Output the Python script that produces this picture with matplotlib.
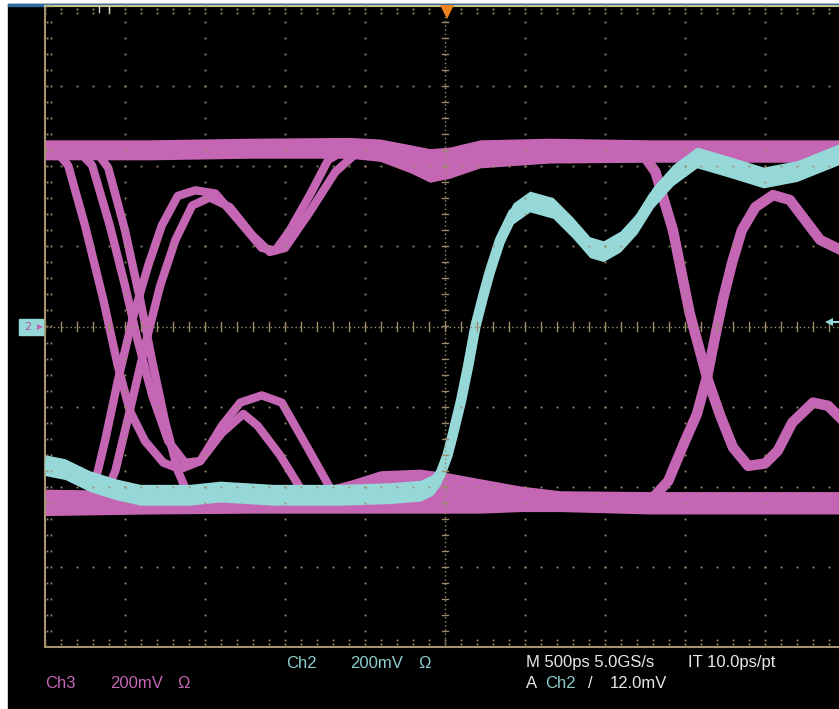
import numpy as np
import matplotlib.pyplot as plt
from matplotlib.patches import Rectangle

# ---------------- trace data (screen divisions: x 0..10, y -4..4) ----------------
# magenta (Ch3) eye: upper / lower rail bands
top_x = [0, 1.31, 2.56, 3.81, 4.19, 4.56, 4.81, 5.06, 5.44, 6.31, 7.56, 8.81, 10.0]
top_hi = [2.33, 2.33, 2.35, 2.36, 2.34, 2.27, 2.22, 2.24, 2.33, 2.35, 2.33, 2.33, 2.33]
top_lo = [2.08, 2.08, 2.10, 2.10, 2.06, 1.92, 1.80, 1.85, 1.98, 2.04, 2.05, 2.05, 2.05]

bot_x = [0, 1.31, 2.56, 3.50, 3.81, 4.19, 4.69, 5.06, 5.44, 5.94, 6.44, 7.56, 8.81, 10.0]
bot_hi = [-2.03, -2.05, -2.08, -2.0, -1.92, -1.80, -1.78, -1.83, -1.90, -1.99, -2.05, -2.06, -2.06, -2.06]
bot_lo = [-2.36, -2.34, -2.33, -2.33, -2.33, -2.33, -2.33, -2.33, -2.33, -2.31, -2.31, -2.34, -2.34, -2.34]

# magenta transitions
f1_x = [0.13, 0.29, 0.5, 0.73, 0.91, 1.06, 1.25, 1.48, 1.69, 1.94, 2.21, 2.44, 2.71, 2.96, 3.28, 3.6]
f1_y = [2.2, 2.01, 1.26, 0.33, -0.49, -1.05, -1.43, -1.7, -1.78, -1.68, -1.24, -0.95, -0.86, -0.95, -1.51, -2.08]
f2_x = [0.41, 0.59, 0.81, 1.0, 1.16, 1.34, 1.54, 1.75, 1.94, 2.21, 2.48, 2.66, 2.94, 3.23]
f2_y = [2.2, 2.01, 1.26, 0.51, -0.18, -0.86, -1.43, -1.7, -1.68, -1.33, -1.09, -1.24, -1.61, -2.08]
f3_x = [0.63, 0.79, 1.0, 1.19, 1.34, 1.5, 1.66, 1.81]
f3_y = [2.2, 1.98, 1.2, 0.33, -0.43, -1.18, -1.8, -2.15]
r1_x = [0.5, 0.63, 0.75, 0.91, 1.09, 1.29, 1.46, 1.66, 1.88, 2.13, 2.44, 2.71, 2.88, 3.06, 3.31, 3.54, 3.75]
r1_y = [-2.2, -1.93, -1.43, -0.68, 0.08, 0.76, 1.26, 1.63, 1.7, 1.66, 1.3, 0.98, 0.95, 1.2, 1.64, 2.08, 2.2]
r2_x = [0.71, 0.88, 1.06, 1.25, 1.44, 1.63, 1.84, 2.06, 2.31, 2.59, 2.81, 3.0, 3.31, 3.63, 3.91]
r2_y = [-2.2, -1.8, -1.05, -0.24, 0.51, 1.08, 1.51, 1.61, 1.49, 1.14, 0.93, 0.98, 1.43, 1.93, 2.18]
f4_x = [7.44, 7.63, 7.85, 8.06, 8.28, 8.44, 8.6, 8.79, 9.0, 9.16, 9.34, 9.6, 9.79, 10.0]
f4_y = [2.2, 1.93, 1.2, 0.16, -0.65, -1.11, -1.51, -1.74, -1.71, -1.55, -1.2, -0.95, -0.99, -1.2]
r4_x = [7.56, 7.79, 8.0, 8.15, 8.28, 8.38, 8.48, 8.59, 8.71, 8.88, 9.1, 9.31, 9.5, 9.69, 10.0]
r4_y = [-2.18, -1.93, -1.43, -1.09, -0.61, -0.11, 0.36, 0.8, 1.2, 1.49, 1.64, 1.58, 1.33, 1.08, 0.93]

# cyan (Ch2) single trace
cx = [0, 0.25, 0.56, 0.88, 1.19, 1.81, 2.19, 2.85, 3.69, 4.31, 4.69, 4.84, 4.94, 5.03, 5.1,
      5.2, 5.29, 5.38, 5.48, 5.56, 5.69, 5.85, 6.06, 6.35, 6.6, 6.81, 6.98, 7.19, 7.4, 7.6,
      7.85, 8.15, 8.56, 8.98, 9.4, 10.0]
cy = [-1.73, -1.78, -1.93, -2.03, -2.1, -2.1, -2.06, -2.1, -2.1, -2.08, -2.05, -1.98, -1.85,
      -1.61, -1.34, -0.93, -0.49, 0.0, 0.39, 0.68, 1.08, 1.41, 1.56, 1.48, 1.23, 0.99, 0.94,
      1.06, 1.29, 1.61, 1.89, 2.11, 1.99, 1.86, 1.94, 2.18]

MAG = '#c466b4'
CYN = '#96d8d8'
GRID = '#9c8c6a'

W, H = 839, 709
fig = plt.figure(figsize=(W / 100, H / 100), dpi=100, facecolor='white')
# black screen + blue strip along the top
fig.patches.append(Rectangle((8 / W, 0), 1, (H - 4) / H, transform=fig.transFigure,
                             color='black', zorder=-5))
fig.patches.append(Rectangle((8 / W, (H - 6) / H), 1, 2 / H, transform=fig.transFigure,
                             color='#2c6aa2', zorder=-4))

ax = fig.add_axes([45 / W, 62 / H, 800 / W, 641 / H])
ax.set_zorder(2)
ax.set_facecolor('black')
ax.set_xlim(0, 10)
ax.set_ylim(-4, 4)
ax.set_xticks([]); ax.set_yticks([])
for s in ['left', 'bottom', 'right']:
    ax.spines[s].set_color('#a89470')
    ax.spines[s].set_linewidth(1.5)
ax.spines['top'].set_color('#c8c48a')
ax.spines['top'].set_linewidth(1.5)

# ---------------- traces ----------------
ax.fill_between(top_x, top_lo, top_hi, color=MAG, lw=0, zorder=2)
ax.fill_between(bot_x, bot_lo, bot_hi, color=MAG, lw=0, zorder=2)
for xs, ys in [(f1_x, f1_y), (f2_x, f2_y), (f3_x, f3_y), (r1_x, r1_y), (r2_x, r2_y)]:
    ax.plot(xs, ys, color=MAG, lw=6, solid_joinstyle='round', zorder=2)
for xs, ys in [(f4_x, f4_y), (r4_x, r4_y)]:
    ax.plot(xs, ys, color=MAG, lw=7.5, solid_joinstyle='round', zorder=2)

cy_a = np.array(cy)
ax.fill_between(cx, cy_a - 0.13, cy_a + 0.13, color=CYN, lw=0, zorder=3)
ax.plot(cx, cy, color=CYN, lw=7.5, solid_joinstyle='round', zorder=3)

# ---------------- graticule ----------------
fine = np.arange(0, 10.001, 0.2)
fine_y = np.arange(-4, 4.001, 0.2)
for gx in range(1, 10):
    if gx == 5:
        continue
    ax.plot(np.full_like(fine_y, gx), fine_y, 's', ms=1.3, color=GRID, mew=0, zorder=5)
for gy in range(-3, 4):
    if gy == 0:
        continue
    ax.plot(fine, np.full_like(fine, gy), 's', ms=1.3, color=GRID, mew=0, zorder=5)

# centre cross hairs with tick marks
ax.axhline(0, color=GRID, lw=1, ls=(0, (1, 2)), zorder=5)
ax.axvline(5, color=GRID, lw=1, ls=(0, (1, 2)), zorder=5)
for t in fine:
    ax.plot([t, t], [-0.05, 0.05], color=GRID, lw=1, zorder=5)
for t in fine_y:
    ax.plot([4.96, 5.04], [t, t], color=GRID, lw=1, zorder=5)

# edge ticks
ax.plot(np.full_like(fine_y, 0.03), fine_y, 's', ms=1.3, color=GRID, mew=0, zorder=5)
ax.plot(np.full_like(fine_y, 0.07), fine_y, 's', ms=1.3, color=GRID, mew=0, zorder=5)
ax.plot(fine, np.full_like(fine, 3.96), 's', ms=1.3, color=GRID, mew=0, zorder=5)
ax.plot(fine, np.full_like(fine, 3.91), 's', ms=1.3, color=GRID, mew=0, zorder=5)
ax.plot(fine, np.full_like(fine, -3.96), 's', ms=1.3, color=GRID, mew=0, zorder=5)
ax.plot(fine, np.full_like(fine, -3.91), 's', ms=1.3, color=GRID, mew=0, zorder=5)

# markers: trigger position, channel ground, trigger level
ax.plot([5.025], [3.93], 'v', ms=10, color='#f08220', mew=0, zorder=6, clip_on=False)
ax.plot([0.675, 0.675], [3.93, 4.0], color='#d8d8c8', lw=1, zorder=6)
ax.plot([0.8, 0.8], [3.93, 4.0], color='#d8d8c8', lw=1, zorder=6)
ax.add_patch(Rectangle((-0.325, -0.1), 0.3, 0.19, color=CYN, clip_on=False, zorder=6))
ax.text(-0.22, -0.005, '2', color='#b050a0', fontsize=8, ha='center', va='center',
        clip_on=False, zorder=7)
ax.plot([-0.06], [0], '>', ms=5, color=MAG, mew=0, clip_on=False, zorder=7)
ax.plot([9.8], [0.05], '<', ms=6, color=CYN, mew=0, zorder=6)
ax.plot([9.8, 10], [0.05, 0.05], color=CYN, lw=1.5, zorder=6)

# ---------------- readout text ----------------
fam = ['Liberation Sans Narrow', 'Liberation Sans', 'DejaVu Sans']
def label(px, py, s, c):
    fig.text(px / W, 1 - py / H, s, color=c, fontsize=12, family=fam, va='center', ha='left')

label(45, 683, 'Ch3', MAG)
label(110, 683, '200mV', MAG)
label(177, 683, 'Ω', MAG)
label(286, 663, 'Ch2', '#8ccccc')
label(350, 663, '200mV', '#8ccccc')
label(418, 663, 'Ω', '#8ccccc')
label(526, 663, 'M 500ps 5.0GS/s', '#e8e8e8')
label(688, 663, 'IT 10.0ps/pt', '#e8e8e8')
label(526, 683, 'A', '#e8e8e8')
label(545, 683, 'Ch2', '#8ccccc')
label(588, 684, '/', '#e8e8e8')
label(610, 683, '12.0mV', '#e8e8e8')

fig.savefig('out.png', dpi=100, facecolor=fig.get_facecolor())
